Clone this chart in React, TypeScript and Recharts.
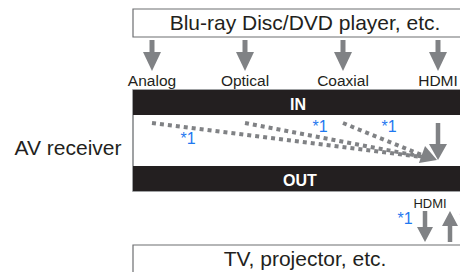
import { ComposedChart, XAxis, YAxis, Scatter, ReferenceArea, ReferenceLine } from 'recharts'

const W = 460
const H = 272
const GREY = '#808285'
const INK = '#231f20'
const BLUE = '#1f78f0'
const FONT = '"Liberation Sans", Arial, Helvetica, sans-serif'

// texts
const sourceLabel = 'Blu-ray Disc/DVD player, etc.'
const sinkLabel = 'TV, projector, etc.'
const receiverLabel = 'AV receiver'
const inputNames = ['Analog', 'Optical', 'Coaxial', 'HDMI']
const outputName = 'HDMI'
const noteText = '*1'

// layout (chart units = pixels)
const inputX = [152, 245, 343, 438]
const noteX = [188, 320, 389, 405, 467]
const noteY = [144, 132, 132, 224, 224]
const mergeTip = { x: 437, y: 160 }
const outDownX = 425
const outUpX = 450

const inputLabelData = inputNames.map((name, i) => ({ x: inputX[i], y: 86, name }))
const noteData = noteX.map((x, i) => ({ x, y: noteY[i], name: noteText }))
const bigTextData = [
  { x: 305, y: 30, name: sourceLabel },
  { x: 68, y: 155, name: receiverLabel },
  { x: 305, y: 266, name: sinkLabel },
]
const barTextData = [
  { x: 298, y: 110, name: 'IN' },
  { x: 300, y: 186, name: 'OUT' },
]
const smallTextData = [{ x: 430, y: 208, name: outputName }]

const topHeads = inputX.map((x) => ({ x, y: 71, angle: 90 }))
const innerHeads = [
  { x: 438, y: 160, angle: 90 },
  { x: mergeTip.x, y: mergeTip.y, angle: 20 },
]
const outHeads = [
  { x: outDownX, y: 242, angle: 90 },
  { x: outUpX, y: 211, angle: -90 },
]

const textShape = (size: number, weight: string, fill: string) => (p: any) => (
  <text x={p.cx} y={p.cy} textAnchor="middle" fontSize={size} fontWeight={weight}
    fill={fill} fontFamily={FONT}>{p.payload.name}</text>
)

const headShape = (len: number, half: number) => (p: any) => {
  const a = (p.payload.angle * Math.PI) / 180
  const c = Math.cos(a)
  const s = Math.sin(a)
  const pts = [[0, 0], [-len, -half], [-len, half]]
    .map(([u, v]) => `${p.cx + u * c - v * s},${p.cy + u * s + v * c}`).join(' ')
  return <polygon points={pts} fill={GREY} />
}

export default function App() {
  return (
    <div style={{ position: 'absolute', left: 0, top: 0, width: W, height: H, overflow: 'hidden', background: '#fff' }}>
      <ComposedChart width={W} height={H} margin={{ top: 0, right: 0, bottom: 0, left: 0 }}>
        <XAxis type="number" dataKey="x" domain={[0, W]} hide allowDataOverflow />
        <YAxis type="number" dataKey="y" domain={[0, H]} reversed hide allowDataOverflow />

        <ReferenceArea x1={133} x2={470} y1={9} y2={37} fill="#fff" fillOpacity={1}
          stroke="#6d6e71" strokeWidth={1.2} ifOverflow="visible" />
        <ReferenceArea x1={133} x2={470} y1={90} y2={191} fill="#fff" fillOpacity={1}
          stroke={GREY} strokeWidth={1.5} ifOverflow="visible" />
        <ReferenceArea x1={133} x2={470} y1={90} y2={115} fill={INK} fillOpacity={1} ifOverflow="visible" />
        <ReferenceArea x1={133} x2={470} y1={166} y2={191} fill={INK} fillOpacity={1} ifOverflow="visible" />
        <ReferenceArea x1={133} x2={470} y1={245} y2={290} fill="#fff" fillOpacity={1}
          stroke="#6d6e71" strokeWidth={1.2} ifOverflow="visible" />

        {inputX.map((x) => (
          <ReferenceLine key={`s${x}`} segment={[{ x, y: 40 }, { x, y: 56 }]} stroke={GREY} strokeWidth={5} />
        ))}
        {inputX.slice(0, 3).map((x) => (
          <ReferenceLine key={`d${x}`} segment={[{ x, y: 123 }, { x: mergeTip.x - 8, y: mergeTip.y - 2 }]}
            stroke={GREY} strokeWidth={4} strokeDasharray="4 4" />
        ))}
        <ReferenceLine segment={[{ x: 438, y: 123 }, { x: 438, y: 146 }]} stroke={GREY} strokeWidth={4.5} />
        <ReferenceLine segment={[{ x: outDownX, y: 211 }, { x: outDownX, y: 230 }]} stroke={GREY} strokeWidth={4.5} />
        <ReferenceLine segment={[{ x: outUpX, y: 242 }, { x: outUpX, y: 223 }]} stroke={GREY} strokeWidth={4.5} />

        <Scatter data={topHeads} shape={headShape(19, 9)} isAnimationActive={false} />
        <Scatter data={innerHeads} shape={headShape(16, 9)} isAnimationActive={false} />
        <Scatter data={outHeads} shape={headShape(15, 8)} isAnimationActive={false} />

        <Scatter data={bigTextData} shape={textShape(21, 'normal', '#231f20')} isAnimationActive={false} />
        <Scatter data={inputLabelData} shape={textShape(15.5, 'normal', '#231f20')} isAnimationActive={false} />
        <Scatter data={barTextData} shape={textShape(16, 'bold', '#fff')} isAnimationActive={false} />
        <Scatter data={smallTextData} shape={textShape(13, 'normal', '#231f20')} isAnimationActive={false} />
        <Scatter data={noteData} shape={textShape(16, 'normal', BLUE)} isAnimationActive={false} />
      </ComposedChart>
    </div>
  )
}
